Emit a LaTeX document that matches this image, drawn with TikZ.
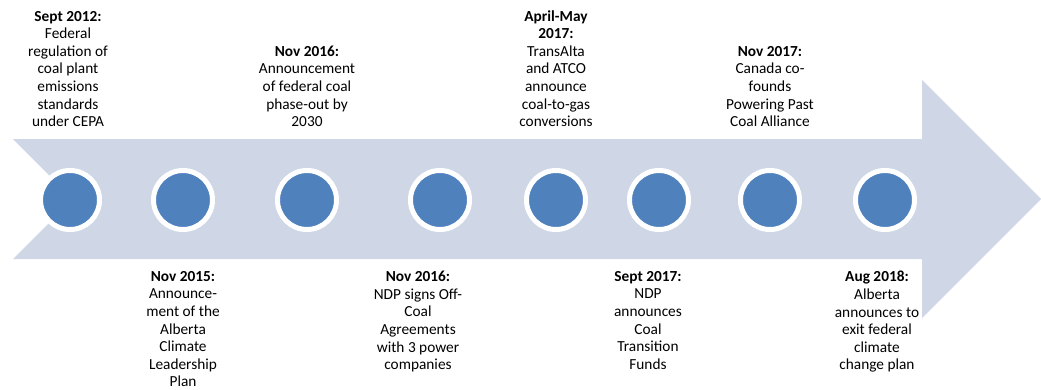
\documentclass[tikz,border=0pt]{standalone}
\usepackage{fontspec}
\setmainfont{Carlito}
\usetikzlibrary{positioning}
\definecolor{bandblue}{RGB}{207,215,230}
\definecolor{dotblue}{RGB}{79,129,189}
\tikzstyle{band} = [fill=bandblue]
\tikzstyle{dnode} = [circle, fill=dotblue, draw=white, line width=3.75pt, minimum size=44.25pt, inner sep=0pt]
\tikzstyle{upnote} = [anchor=south, align=center, inner sep=0pt, font=\fontsize{11.5}{13.2}\selectfont]
\tikzstyle{downnote} = [anchor=north, align=center, inner sep=0pt, font=\fontsize{11.5}{13.2}\selectfont]

\begin{document}
\begin{tikzpicture}[x=0.75pt, y=-0.75pt]
			\useasboundingbox (0,0) rectangle (1041,389);
			\path [band] (13,139) -- (922,139) -- (922,80) -- (1041,199) -- (922,318) -- (922,259) -- (13,259) -- (73,199) -- cycle;

			\node [dnode] (e1) at (70,200) {};
			\node [dnode] (e2) at (183,200) {};
			\node [dnode] (e3) at (307,200) {};
			\node [dnode] (e4) at (440,200) {};
			\node [dnode] (e5) at (556,200) {};
			\node [dnode] (e6) at (659,200) {};
			\node [dnode] (e7) at (770,200) {};
			\node [dnode] (e8) at (885,200) {};

			\node [upnote] (t1) at (68,127) {\textbf{Sept 2012:}\\Federal\\regulation of\\coal plant\\emissions\\standards\\under CEPA};
			\node [downnote] (t2) at (183,271) {\textbf{Nov 2015:}\\Announce-\\ment of the\\Alberta\\Climate\\Leadership\\Plan};
			\node [upnote] (t3) at (307,127) {\textbf{Nov 2016:}\\Announcement\\of federal coal\\phase-out by\\2030};
			\node [downnote] (t4) at (418,271) {\textbf{Nov 2016:}\\NDP signs Off-\\Coal\\Agreements\\with 3 power\\companies};
			\node [upnote] (t5) at (556,127) {\textbf{April-May}\\\textbf{2017:}\\TransAlta\\and ATCO\\announce\\coal-to-gas\\conversions};
			\node [downnote] (t6) at (648,271) {\textbf{Sept 2017:}\\NDP\\announces\\Coal\\Transition\\Funds};
			\node [upnote] (t7) at (770,127) {\textbf{Nov 2017:}\\Canada co-\\founds\\Powering Past\\Coal Alliance};
			\node [downnote] (t8) at (877,271) {\textbf{Aug 2018:}\\Alberta\\announces to\\exit federal\\climate\\change plan};
		\end{tikzpicture}
\end{document}
